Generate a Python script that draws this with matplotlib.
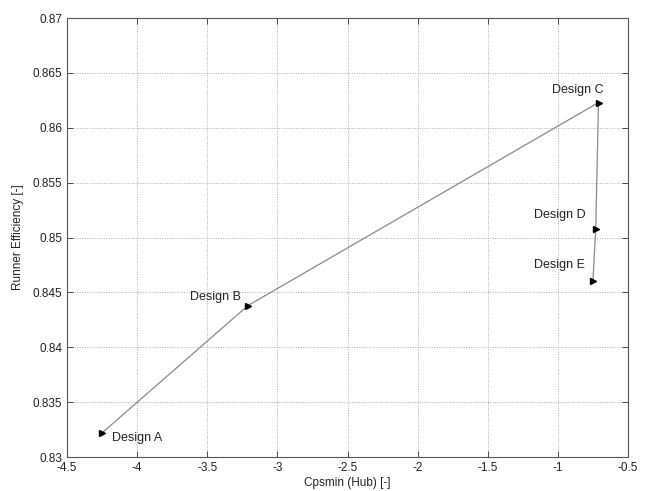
import matplotlib
matplotlib.use("Agg")
import matplotlib.pyplot as plt

plt.rcParams['font.family'] = ['Liberation Sans', 'DejaVu Sans']

designs = ["Design A", "Design B", "Design C", "Design D", "Design E"]
cpsmin = [-4.25, -3.21, -0.71, -0.73, -0.75]
efficiency = [0.8322, 0.8438, 0.8623, 0.8508, 0.8460]
x_ticks = [-4.5, -4, -3.5, -3, -2.5, -2, -1.5, -1, -0.5]
x_tick_labels = ["-4.5", "-4", "-3.5", "-3", "-2.5", "-2", "-1.5", "-1", "-0.5"]
y_ticks = [0.83, 0.835, 0.84, 0.845, 0.85, 0.855, 0.86, 0.865, 0.87]
y_tick_labels = ["0.83", "0.835", "0.84", "0.845", "0.85", "0.855", "0.86", "0.865", "0.87"]

# label offsets in points (dx, dy) and alignment
label_offsets = {
    "Design A": (7, -4, "left"),
    "Design B": (-5, 6, "right"),
    "Design C": (4, 9, "right"),
    "Design D": (-7, 10, "right"),
    "Design E": (-6, 12, "right"),
}

fig = plt.figure(figsize=(6.47, 4.91), dpi=100)
ax = fig.add_axes([0.1036, 0.0692, 0.867, 0.894])

ax.plot(cpsmin, efficiency, color="#8a8a8a", linewidth=0.9, zorder=2)
ax.plot(cpsmin, efficiency, linestyle="none", marker=">", markersize=5,
        color="black", zorder=3)

for name, xv, yv in zip(designs, cpsmin, efficiency):
    dx, dy, ha = label_offsets[name]
    ax.annotate(name, (xv, yv), xytext=(dx, dy), textcoords="offset points",
                ha=ha, va="center", fontsize=9, color="#222222")

ax.set_xlim(-4.5, -0.5)
ax.set_ylim(0.83, 0.87)
ax.set_xticks(x_ticks)
ax.set_xticklabels(x_tick_labels)
ax.set_yticks(y_ticks)
ax.set_yticklabels(y_tick_labels)
ax.tick_params(direction="in", top=True, right=True, labelsize=8.5,
               length=4, width=0.6, colors="#333333", labelcolor="#222222")
ax.grid(True, linestyle=(0, (1, 1.5)), color="#b0b0b0", linewidth=0.7)
for s in ax.spines.values():
    s.set_color("#555555")
    s.set_linewidth(0.8)

ax.set_xlabel("Cpsmin (Hub) [-]", fontsize=8.5, color="#222222", labelpad=2)
ax.set_ylabel("Runner Efficiency [-]", fontsize=8.5, color="#222222", labelpad=6)

fig.savefig("out.png", dpi=100)
